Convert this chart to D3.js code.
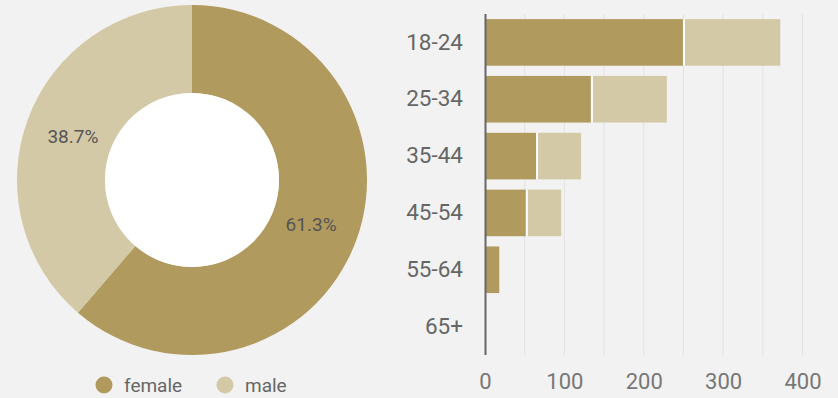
<!DOCTYPE html>
<html>
<head>
<meta charset="utf-8">
<script src="https://cdn.jsdelivr.net/npm/d3@7"></script>
<style>
	body { margin: 0; background: #f2f2f2; }
	svg { display: block; font-family: Roboto, "Noto Sans", sans-serif; }
</style>
</head>
<body>
<svg class="chart"></svg>
<script>
//data
var genders = ["female", "male"];
var genderShare = [61.3, 38.7];
var ageGroups = ["18-24", "25-34", "35-44", "45-54", "55-64", "65+"];
var femaleCounts = [250, 134, 65, 52, 18, 0];
var maleCounts = [122, 95, 56, 44, 0, 0];
var xTicks = [0, 100, 200, 300, 400];

var colors = {female: "#b09a5e", male: "#d4c9a6"};

var width = 838;
var height = 398;

var svg = d3.select(".chart")
			.attr("width", width)
			.attr("height", height);

//---------- donut ----------
var cx = 192, cy = 180;
var outerR = 175, innerR = 87;

var pieData = d3.pie().sort(null)(genderShare);
var arc = d3.arc().innerRadius(innerR).outerRadius(outerR);
var labelArc = d3.arc().innerRadius(127).outerRadius(127);

var donut = svg.append("g")
			.attr("transform", "translate(" + cx + "," + cy + ")");

donut.selectAll(".slice")
	.data(pieData)
	.enter()
	.append("path")
	.attr("class", "slice")
	.attr("d", arc)
	.attr("fill", function(d, i){ return colors[genders[i]]; });

//white hole in the middle
donut.append("circle")
	.attr("r", innerR)
	.attr("fill", "#fff");

donut.selectAll(".pct")
	.data(pieData)
	.enter()
	.append("text")
	.attr("class", "pct")
	.attr("transform", function(d){ return "translate(" + labelArc.centroid(d) + ")"; })
	.attr("text-anchor", "middle")
	.attr("dy", "0.35em")
	.attr("font-size", 19)
	.attr("fill", "#555")
	.text(function(d){ return d.data.toFixed(1) + "%"; });

//legend
var legend = svg.append("g")
			.attr("transform", "translate(104,385)");
var legendX = [0, 121];

var items = legend.selectAll(".item")
	.data(genders)
	.enter()
	.append("g")
	.attr("class", "item")
	.attr("transform", function(d, i){ return "translate(" + legendX[i] + ",0)"; });

items.append("circle")
	.attr("r", 8.5)
	.attr("fill", function(d){ return colors[d]; });

items.append("text")
	.attr("x", 20)
	.attr("dy", "0.35em")
	.attr("font-size", 19)
	.attr("fill", "#666")
	.text(function(d){ return d; });

//---------- stacked bars ----------
var bx0 = 485, bx1 = 802.5;
var by0 = 14, by1 = 355;

var xChart = d3.scaleLinear()
			.domain([0, 400])
			.range([bx0, bx1]);

var yChart = d3.scaleBand()
			.domain(ageGroups)
			.range([by0, by1])
			.paddingInner(0.18)
			.paddingOuter(0.09);

//gridlines every 50
svg.append("g")
	.selectAll("line")
	.data(d3.range(50, 401, 50))
	.enter()
	.append("line")
	.attr("x1", function(d){ return xChart(d); })
	.attr("x2", function(d){ return xChart(d); })
	.attr("y1", by0)
	.attr("y2", by1)
	.attr("stroke", "#e2e2e2")
	.attr("stroke-width", 1);

var rows = ageGroups.map(function(a, i){
	return {age: a, female: femaleCounts[i], male: maleCounts[i]};
});

var bars = svg.append("g");

bars.selectAll(".fbar")
	.data(rows)
	.enter()
	.append("rect")
	.attr("class", "fbar")
	.attr("x", xChart(0))
	.attr("y", function(d){ return yChart(d.age); })
	.attr("width", function(d){ return xChart(d.female) - xChart(0); })
	.attr("height", yChart.bandwidth())
	.attr("fill", colors.female);

bars.selectAll(".mbar")
	.data(rows.filter(function(d){ return d.male > 0; }))
	.enter()
	.append("rect")
	.attr("class", "mbar")
	.attr("x", function(d){ return xChart(d.female) + 1; })
	.attr("y", function(d){ return yChart(d.age); })
	.attr("width", function(d){ return xChart(d.female + d.male) - xChart(d.female) - 1; })
	.attr("height", yChart.bandwidth())
	.attr("fill", colors.male);

//white separators between segments
bars.selectAll(".sep")
	.data(rows.filter(function(d){ return d.male > 0; }))
	.enter()
	.append("line")
	.attr("class", "sep")
	.attr("x1", function(d){ return xChart(d.female) + 0.5; })
	.attr("x2", function(d){ return xChart(d.female) + 0.5; })
	.attr("y1", function(d){ return yChart(d.age); })
	.attr("y2", function(d){ return yChart(d.age) + yChart.bandwidth(); })
	.attr("stroke", "#fff")
	.attr("stroke-width", 2);

//left axis
var yAxis = d3.axisLeft(yChart).tickSize(0).tickPadding(22);
var yg = svg.append("g")
	.attr("transform", "translate(" + bx0 + ",0)")
	.call(yAxis);
yg.select(".domain")
	.attr("d", "M0.5," + by0 + "V" + by1)
	.attr("stroke", "#666")
	.attr("stroke-width", 2);
yg.selectAll("text")
	.attr("font-size", 22.5)
	.attr("font-family", "Roboto")
	.attr("fill", "#666");

//bottom axis
var xAxis = d3.axisBottom(xChart).tickValues(xTicks).tickSize(0).tickPadding(18);
var xg = svg.append("g")
	.attr("transform", "translate(0," + by1 + ")")
	.call(xAxis);
xg.select(".domain").remove();
xg.selectAll("text")
	.attr("font-size", 22)
	.attr("font-family", "Roboto")
	.attr("fill", "#777");
</script>
</body>
</html>
